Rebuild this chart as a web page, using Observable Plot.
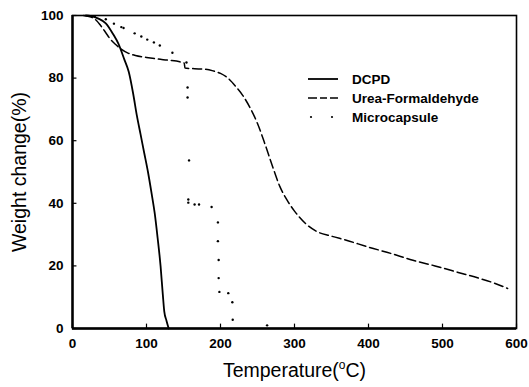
<!DOCTYPE html>
<html>
<head>
<meta charset="utf-8">
<script src="https://cdn.jsdelivr.net/npm/d3@7"></script>
<script src="https://cdn.jsdelivr.net/npm/@observablehq/plot@0.6"></script>
<style>
  html, body { margin: 0; padding: 0; background: white; }
</style>
</head>
<body>
<div id="chart"></div>
<script>
// ---- Data ----
const seriesNames = ["DCPD", "Urea-Formaldehyde", "Microcapsule"];
const xTicks = [0, 100, 200, 300, 400, 500, 600];
const yTicks = [0, 20, 40, 60, 80, 100];

const dcpdT = [18, 25, 35, 45, 55, 62, 70, 76, 82, 87, 92, 97, 102, 107, 111, 115, 119, 122, 124, 127, 130];
const dcpdW = [100, 99.8, 99, 97.5, 94, 91, 86, 82, 75, 68, 62, 56, 50, 43, 37, 29, 20, 11, 5.5, 2.5, 0];

const ufT = [15, 25, 32, 38, 45, 51, 58, 65, 75, 85, 100, 115, 130, 145, 151, 152, 165, 180, 190, 200, 210, 220, 230, 240, 250, 260, 270, 280, 290, 300, 315, 330, 350, 370, 400, 430, 460, 490, 520, 550, 570, 588];
const ufW = [100, 99.5, 98.5, 96.8, 94.5, 92.5, 90.8, 89.4, 88, 87.2, 86.6, 86.1, 85.7, 85.2, 84.8, 83.2, 83, 82.8, 82.3, 81.5, 80, 77.5, 74.5, 70.5, 65.5, 59, 52, 45.5, 41, 37.5, 33.5, 31, 29.5, 28.2, 26, 24, 21.8, 20, 18, 16, 14.5, 12.8];

const microT = [30, 45, 56, 66, 69, 84, 93, 101, 110, 118, 135, 154, 155.5, 155.5, 157.5, 156.5, 156.5, 165, 171, 188, 196.5, 196.5, 197.5, 197.5, 198.5, 210.5, 216, 216.5, 263];
const microW = [99.8, 98.8, 97.4, 96.3, 96, 94.3, 93.3, 92.3, 91.4, 90.4, 88.1, 85, 77, 73.8, 53.7, 41.2, 40.2, 39.6, 39.6, 38.8, 33.9, 27.9, 21.9, 16.1, 11.7, 11.3, 8.4, 2.8, 1];

const dcpd = dcpdT.map((t, i) => ({t, w: dcpdW[i]}));
const uf = ufT.map((t, i) => ({t, w: ufW[i]}));
const micro = microT.map((t, i) => ({t, w: microW[i]}));

const font = "'Liberation Sans', Arial, Helvetica, sans-serif";
const xTitle = "Temperature(oC)";

const chart = Plot.plot({
  width: 529,
  height: 387,
  marginLeft: 72,
  marginRight: 13,
  marginTop: 15,
  marginBottom: 59,
  x: {domain: [0, 600]},
  y: {domain: [0, 100]},
  style: {fontFamily: font, color: "black", background: "white", overflow: "visible"},
  marks: [
    Plot.axisX({ticks: xTicks, tickSize: 0, tickPadding: 10, fontSize: 13.5, fontWeight: "bold", label: null, tickFormat: d => String(d)}),
    Plot.axisY({ticks: yTicks, tickSize: 0, tickPadding: 9, fontSize: 13.5, fontWeight: "bold", label: null, tickFormat: d => String(d)}),
    Plot.ruleX(xTicks, {y1: 0, y2: 1.4, strokeWidth: 1.2}),
    Plot.ruleY(yTicks, {x1: 0, x2: 6, strokeWidth: 1.2}),
    Plot.frame({strokeWidth: 1.6}),
    Plot.ruleX([0], {strokeWidth: 2.4}),
    Plot.ruleY([0], {strokeWidth: 2.4}),
    Plot.line(dcpd, {x: "t", y: "w", stroke: "black", strokeWidth: 1.8, curve: "monotone-x"}),
    Plot.line(uf, {x: "t", y: "w", stroke: "black", strokeWidth: 1.5, strokeDasharray: "9,4", curve: "monotone-x"}),
    Plot.dot(micro, {x: "t", y: "w", r: 1.2, fill: "black", stroke: null}),
    Plot.text([xTitle], {frameAnchor: "bottom", dy: 48, fontSize: 19.5, textAnchor: "middle"}),
    Plot.text(["Weight change(%)"], {frameAnchor: "left", dx: -53, rotate: -90, fontSize: 19.5, textAnchor: "middle"})
  ]
});

document.getElementById("chart").appendChild(chart);

// Superscript "o" in the x title
const svg = d3.select(chart);
svg.selectAll("text").filter(function() { return this.textContent === xTitle; }).each(function() {
  const t = d3.select(this);
  t.text("");
  t.append("tspan").text("Temperature(");
  t.append("tspan").attr("dy", "-8").attr("font-size", "12").text("o");
  t.append("tspan").attr("dy", "8").text("C)");
});

// Legend
const legend = svg.append("g").attr("font-family", font).attr("font-size", 13.5).attr("text-anchor", "start");
const rows = [
  {name: seriesNames[0], y: 79, type: "solid"},
  {name: seriesNames[1], y: 98, type: "dash"},
  {name: seriesNames[2], y: 117, type: "dot"}
];
rows.forEach(r => {
  if (r.type === "solid") {
    legend.append("line").attr("x1", 308).attr("x2", 338).attr("y1", r.y).attr("y2", r.y)
      .attr("stroke", "black").attr("stroke-width", 1.8);
  } else if (r.type === "dash") {
    legend.append("line").attr("x1", 308).attr("x2", 338).attr("y1", r.y).attr("y2", r.y)
      .attr("stroke", "black").attr("stroke-width", 1.5).attr("stroke-dasharray", "9,3,7,3");
  } else {
    [311, 332].forEach(cx => legend.append("circle").attr("cx", cx).attr("cy", r.y).attr("r", 1.1).attr("fill", "black"));
  }
  legend.append("text").attr("x", 352).attr("y", r.y).attr("dy", "0.35em").attr("text-anchor", "start").attr("font-weight", "bold").text(r.name);
});
</script>
</body>
</html>
